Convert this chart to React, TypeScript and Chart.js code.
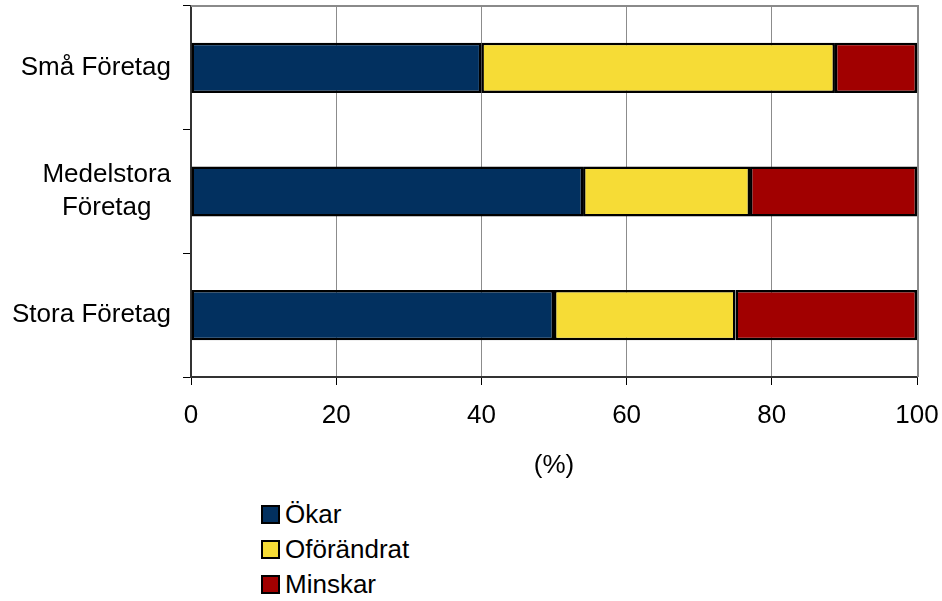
import React, { useEffect, useRef } from "react";
import { Chart, registerables } from "chart.js";

Chart.register(...registerables);

const categories: (string | string[])[] = ["Små Företag", ["Medelstora", "Företag"], "Stora Företag"];
const seriesNames = ["Ökar", "Oförändrat", "Minskar"];
const okar = [40, 54, 50];
const oforandrat = [48.7, 23, 25];
const minskar = [11.3, 23, 25];
const colors = ["#02305F", "#F6DC36", "#A10000"];
const xTitle = "(%)";

const FONT = "'Liberation Sans', Arial, sans-serif";
const LABEL_SIZE = 26;
const LABEL_LINE = 33;
const Y_TICK_LEN = 8;
const Y_TICK_PAD = 12;

const borderPlugin = {
  id: "plotBorder",
  beforeDatasetsDraw(chart: any) {
    const { ctx, chartArea } = chart;
    ctx.save();
    ctx.strokeStyle = "#8a8a8a";
    ctx.lineWidth = 2;
    ctx.beginPath();
    ctx.moveTo(chartArea.left, chartArea.top);
    ctx.lineTo(chartArea.right + 1, chartArea.top);
    ctx.lineTo(chartArea.right + 1, chartArea.bottom);
    ctx.stroke();
    ctx.restore();
  },
};

// category labels: block right-aligned to the axis, lines centred within the block
const yLabelPlugin = {
  id: "yLabels",
  afterDraw(chart: any) {
    const { ctx } = chart;
    const scale = chart.scales.y;
    ctx.save();
    ctx.font = `${LABEL_SIZE}px ${FONT}`;
    ctx.fillStyle = "#000";
    ctx.textAlign = "center";
    ctx.textBaseline = "middle";
    const right = scale.right - Y_TICK_LEN - Y_TICK_PAD;
    (chart.data.labels as (string | string[])[]).forEach((lab, i) => {
      const lines = Array.isArray(lab) ? lab : [lab];
      const blockW = Math.max(...lines.map((l) => ctx.measureText(l).width));
      const cx = right - blockW / 2;
      const cy = scale.getPixelForTick(i);
      lines.forEach((l, j) => {
        ctx.fillText(l, cx, cy + (j - (lines.length - 1) / 2) * LABEL_LINE);
      });
    });
    ctx.restore();
  },
};

function zeroPadding(scale: any) {
  scale.paddingTop = 0;
  scale.paddingBottom = 0;
  scale.paddingLeft = 0;
  scale.paddingRight = 0;
}

export default function App() {
  const ref = useRef<HTMLCanvasElement>(null);
  useEffect(() => {
    const values = [okar, oforandrat, minskar];
    const chart = new Chart(ref.current!, {
      type: "bar",
      data: {
        labels: categories,
        datasets: seriesNames.map((name, i) => ({
          label: name,
          data: values[i],
          backgroundColor: colors[i],
          borderColor: "#000",
          borderWidth: 2.5,
          borderSkipped: false,
          categoryPercentage: 1,
          barPercentage: 0.405,
        })),
      },
      options: {
        indexAxis: "y",
        responsive: false,
        animation: false,
        devicePixelRatio: 1,
        layout: { padding: { top: 6, right: 25, left: 0, bottom: 0 } },
        plugins: { legend: { display: false }, tooltip: { enabled: false } },
        scales: {
          x: {
            stacked: true,
            min: 0,
            max: 100,
            ticks: {
              stepSize: 20,
              color: "#000",
              padding: 15,
              font: { family: FONT, size: 26 },
            },
            grid: { color: "#8c8c8c", lineWidth: 1, tickLength: 8, tickColor: "#000" },
            border: { color: "#333", width: 2 },
            title: {
              display: true,
              text: xTitle,
              color: "#000",
              font: { family: FONT, size: 26 },
              padding: { top: 0, bottom: 16 },
            },
            afterFit(scale: any) {
              scale.height = 120;
              zeroPadding(scale);
            },
          },
          y: {
            stacked: true,
            ticks: { display: false },
            grid: { drawOnChartArea: false, tickLength: Y_TICK_LEN, tickColor: "#000", offset: true },
            border: { color: "#333", width: 2 },
            afterFit(scale: any) {
              scale.width = 191;
              zeroPadding(scale);
            },
          },
        },
      },
      plugins: [borderPlugin, yLabelPlugin],
    });
    return () => chart.destroy();
  }, []);

  return (
    <div style={{ position: "absolute", left: 0, top: 0, width: 942, height: 601, background: "#fff" }}>
      <canvas ref={ref} width={942} height={497} style={{ display: "block", width: 942, height: 497 }} />
      <div style={{ position: "absolute", left: 261, top: 497, display: "flex", flexDirection: "column" }}>
        {seriesNames.map((name, i) => (
          <div key={name} style={{ display: "flex", alignItems: "center", height: 35, fontFamily: FONT, fontSize: 26, color: "#000" }}>
            <span
              style={{
                display: "inline-block",
                width: 19,
                height: 19,
                boxSizing: "border-box",
                border: "2px solid #000",
                background: colors[i],
                marginRight: 5,
              }}
            />
            <span>{name}</span>
          </div>
        ))}
      </div>
    </div>
  );
}
